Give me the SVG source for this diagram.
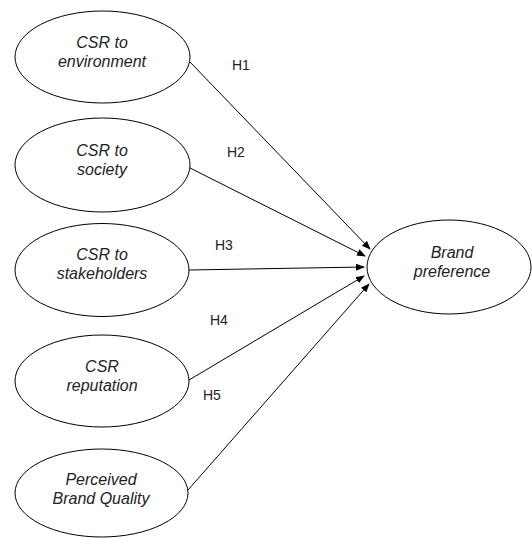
<svg xmlns="http://www.w3.org/2000/svg" width="532" height="538" viewBox="0 0 532 538">
<style>
.node ellipse{fill:#fff;stroke:#000;stroke-width:1}
.node text{font-family:"Liberation Sans",Arial,sans-serif;font-size:16px;font-style:italic;fill:#222;text-anchor:middle}
.lbl{font-family:"Liberation Sans",Arial,sans-serif;font-size:14px;fill:#222}
.edge{stroke:#000;stroke-width:1;fill:none;marker-end:url(#ah)}
</style>
<defs>
<marker id="ah" markerWidth="9" markerHeight="7" refX="8" refY="3.5" orient="auto" markerUnits="userSpaceOnUse">
<path d="M0,0 L9,3.5 L0,7 z" fill="#000"/>
</marker>
</defs>
<rect width="532" height="538" fill="#fff"/>
<g id="connectors">
<line class="edge" x1="190" y1="62" x2="370" y2="249"/>
<line class="edge" x1="190" y1="168" x2="365" y2="256"/>
<line class="edge" x1="189" y1="270" x2="364" y2="267"/>
<line class="edge" x1="189" y1="380" x2="364" y2="276"/>
<line class="edge" x1="188" y1="490" x2="369" y2="284"/>
<text class="lbl" x="232" y="70">H1</text>
<text class="lbl" x="227" y="157">H2</text>
<text class="lbl" x="215" y="250">H3</text>
<text class="lbl" x="210" y="325">H4</text>
<text class="lbl" x="203" y="400">H5</text>
</g>
<g id="n1" class="node"><ellipse cx="102.5" cy="57" rx="87.5" ry="46"/><text x="102" y="48">CSR to</text><text x="102" y="67">environment</text></g>
<g id="n2" class="node"><ellipse cx="102.5" cy="165" rx="87.5" ry="47"/><text x="102" y="156">CSR to</text><text x="102" y="175">society</text></g>
<g id="n3" class="node"><ellipse cx="102" cy="270" rx="87" ry="46.5"/><text x="102" y="260">CSR to</text><text x="102" y="279">stakeholders</text></g>
<g id="n4" class="node"><ellipse cx="102" cy="381" rx="87" ry="46"/><text x="102" y="372">CSR</text><text x="102" y="391">reputation</text></g>
<g id="n5" class="node"><ellipse cx="101.5" cy="493" rx="86.5" ry="44"/><text x="101" y="485">Perceived</text><text x="101" y="504">Brand Quality</text></g>
<g id="n6" class="node"><ellipse cx="449" cy="267" rx="82" ry="47"/><text x="452" y="258">Brand</text><text x="452" y="277">preference</text></g>
</svg>
